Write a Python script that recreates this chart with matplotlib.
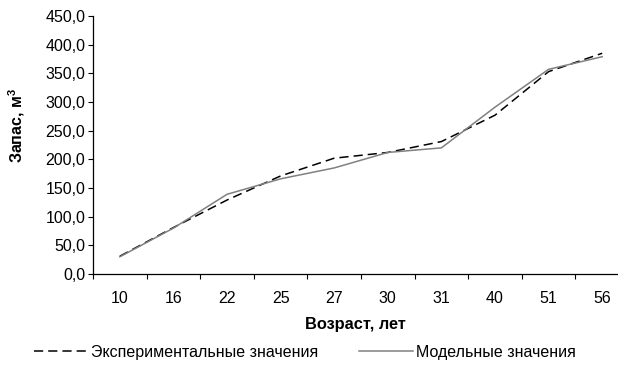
import numpy as np
from matplotlib import pyplot as plt
from matplotlib.ticker import FuncFormatter, MultipleLocator, FixedLocator

plt.rcParams['font.family'] = ['Liberation Sans', 'DejaVu Sans']
plt.rcParams['mathtext.fontset'] = 'custom'
plt.rcParams['mathtext.bf'] = 'Liberation Sans:bold'
plt.rcParams['mathtext.rm'] = 'Liberation Sans'

ages = ['10', '16', '22', '25', '27', '30', '31', '40', '51', '56']
experimental = [31, 81, 129, 171, 202, 212, 231, 277, 353, 385]
model = [30, 80, 139, 166, 185, 212, 220, 291, 357, 379]

fig = plt.figure(figsize=(6.18, 3.78), dpi=100)
ax = fig.add_axes([93 / 618, 1 - 274 / 378, 536 / 618, 258 / 378])

x = np.arange(len(ages))
ax.plot(x, experimental, color='black', lw=1.1, ls=(0, (6, 3.3)),
        label='Экспериментальные значения')
ax.plot(x, model, color='#808080', lw=1.1, label='Модельные значения')

ax.set_xlim(-0.5, len(ages) - 0.5)
ax.set_ylim(0, 450)
ax.yaxis.set_major_locator(MultipleLocator(50))
ax.yaxis.set_major_formatter(FuncFormatter(lambda v, p: f'{v:.1f}'.replace('.', ',')))

ax.set_xticks(x)
ax.set_xticklabels(ages)
ax.xaxis.set_minor_locator(FixedLocator(np.arange(-0.5, len(ages), 1.0)))
ax.tick_params(axis='x', which='major', length=0, pad=12.5, labelsize=11.5)
ax.tick_params(axis='x', which='minor', length=3.6, width=0.8, direction='out')
ax.tick_params(axis='y', length=3.6, width=0.8, direction='out', labelsize=11.5, pad=2)

for s in ['top', 'right']:
    ax.spines[s].set_visible(False)
for s in ['left', 'bottom']:
    ax.spines[s].set_linewidth(0.9)

ax.set_xlabel('Возраст, лет', fontsize=11.8, fontweight='bold')
ax.xaxis.set_label_coords(0.49, -0.168)
ax.set_ylabel('Запас, м$^\\mathbf{3}$', fontsize=11.5, fontweight='bold')
ax.yaxis.set_label_coords(-0.123, 0.574)

fig.legend(loc='center', bbox_to_anchor=(305 / 618, 1 - 352 / 378), ncol=2,
           frameon=False, fontsize=11.5, handlelength=3.4, handletextpad=0.2,
           columnspacing=2.5)

fig.savefig('out.png', dpi=100)
